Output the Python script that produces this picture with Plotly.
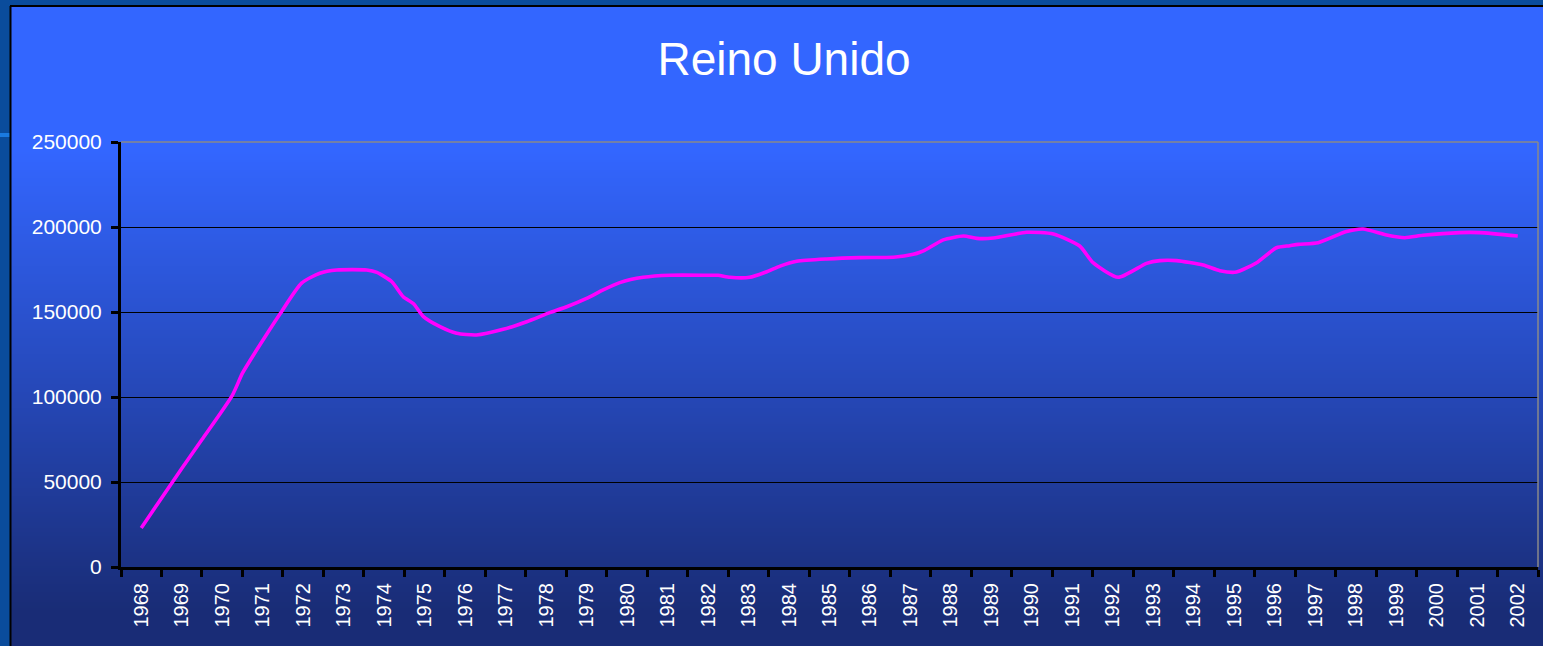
import plotly.graph_objects as go

# ---- data ----
years = [1968.0, 1969.0, 1969.5, 1970.25, 1970.5, 1970.85, 1971.43, 1971.96, 1972.41, 1972.83,
         1973.57, 1973.82, 1974.19, 1974.47, 1974.72, 1974.97, 1975.38, 1975.79, 1976.28, 1976.94,
         1977.52, 1978.09, 1978.51, 1979.0, 1979.41, 1979.82, 1980.4, 1981.06, 1982.05, 1982.25,
         1982.54, 1983.03, 1983.45, 1983.78, 1984.19, 1984.93, 1985.75, 1986.58, 1987.07, 1987.32,
         1987.81, 1988.31, 1988.64, 1989.05, 1989.87, 1990.53, 1991.18, 1991.51, 1992.13, 1992.83,
         1993.16, 1993.57, 1994.23, 1994.64, 1995.05, 1995.55, 1996.04, 1996.37, 1996.58, 1997.07,
         1997.77, 1998.18, 1998.76, 1999.21, 1999.66, 2000.57, 2001.06, 2002.0]
values = [23000, 58000, 75000, 101000, 114000, 127600, 149000, 167000, 172800, 174700,
          174700, 173300, 167800, 159000, 155000, 147300, 141400, 137500, 136500, 139800,
          144300, 149600, 153100, 158000, 163000, 167300, 170400, 171600, 171600, 171600,
          170400, 170400, 173700, 177000, 179800, 181200, 182000, 182200, 183900, 185900,
          192400, 194700, 193300, 193500, 196900, 195900, 188800, 179000, 170400, 178600,
          180200, 180200, 177600, 174300, 173500, 179000, 187800, 189000, 189800, 190800,
          197300, 198800, 195300, 193700, 195100, 196700, 196700, 194700]
label_years = list(range(1968, 2003))
tick_labels = [str(y) for y in label_years]
y_ticks = [0, 50000, 100000, 150000, 200000, 250000]

# ---- geometry helpers (pixels -> paper) ----
W, H = 1543, 646
L, R, T, B = 121, 1538, 142, 567


def px(x):
    return (x - L) / (R - L)


def py(y):
    return (B - y) / (B - T)


shapes = []
# outer slide background
shapes.append(dict(type="rect", xref="paper", yref="paper", x0=px(0), x1=px(W), y0=py(H), y1=py(0),
                   fillcolor="#0A4C9C", line=dict(width=0), layer="below"))
shapes.append(dict(type="rect", xref="paper", yref="paper", x0=px(0), x1=px(10), y0=py(137), y1=py(133),
                   fillcolor="#1A7AE0", line=dict(width=0), layer="below"))
# gradient chart area
top_c = (51, 102, 255)
bot_c = (25, 44, 118)
g0, g1 = 150, 610
step = 2
y = 6
while y < H:
    t = min(max((y - g0) / (g1 - g0), 0), 1)
    c = tuple(round(top_c[i] + (bot_c[i] - top_c[i]) * t) for i in range(3))
    shapes.append(dict(type="rect", xref="paper", yref="paper", x0=px(10), x1=px(W + 2),
                       y0=py(min(y + step + 0.5, H)), y1=py(y), fillcolor="rgb(%d,%d,%d)" % c,
                       line=dict(width=0), layer="below"))
    y += step
# black frame of chart area (top, left)
shapes.append(dict(type="line", xref="paper", yref="paper", x0=px(10), x1=px(W), y0=py(6), y1=py(6),
                   line=dict(color="black", width=2), layer="below"))
shapes.append(dict(type="line", xref="paper", yref="paper", x0=px(10.5), x1=px(10.5), y0=py(6), y1=py(H),
                   line=dict(color="black", width=2), layer="below"))
# grey plot-area border (top, right)
shapes.append(dict(type="line", xref="paper", yref="paper", x0=0, x1=1, y0=1, y1=1,
                   line=dict(color="#8a8a8a", width=1.5), layer="above"))
shapes.append(dict(type="line", xref="paper", yref="paper", x0=1, x1=1, y0=0, y1=1,
                   line=dict(color="#8a8a8a", width=1.5), layer="above"))

fig = go.Figure()
fig.add_trace(go.Scatter(x=years, y=values, mode="lines",
                         line=dict(color="#FF00FF", width=3.6, shape="spline", smoothing=0.6),
                         hoverinfo="x+y", showlegend=False))

font_family = "Liberation Sans, Arial, sans-serif"
fig.update_layout(
    width=W, height=H,
    margin=dict(l=L, r=W - R, t=T, b=H - B, pad=0),
    paper_bgcolor="#0A4C9C",
    plot_bgcolor="rgba(0,0,0,0)",
    shapes=shapes,
    title=dict(text="Reino Unido", x=784 / W, xref="container", xanchor="center",
               y=1 - 59 / H, yref="container", yanchor="middle",
               font=dict(family=font_family, size=46, color="white")),
    font=dict(family=font_family, color="white"),
    xaxis=dict(range=[1967.5, 2002.5], tickmode="array", tickvals=label_years, ticktext=tick_labels,
               tickangle=-90, ticks="", showgrid=False, zeroline=False,
               showline=True, linecolor="black", linewidth=3,
               tickfont=dict(family=font_family, size=20, color="white"),
               ticklabelstandoff=5,
               minor=dict(tickmode="array", tickvals=[y0 - 0.5 for y0 in label_years] + [2002.5],
                          ticks="outside", ticklen=7, tickwidth=3, tickcolor="black", showgrid=False)),
    yaxis=dict(range=[0, 250000], tickmode="array", tickvals=y_ticks,
               ticktext=[str(v) for v in y_ticks],
               ticks="outside", ticklen=7, tickwidth=3, tickcolor="black",
               showgrid=True, gridcolor="black", gridwidth=1, zeroline=False,
               showline=True, linecolor="black", linewidth=3,
               tickfont=dict(family=font_family, size=21, color="white"),
               ticklabelstandoff=5),
)

fig.write_html("out.html", config={"displayModeBar": False},
               post_script="document.body.style.margin='0';document.body.style.padding='0';"
                           "document.body.style.overflow='hidden';")
